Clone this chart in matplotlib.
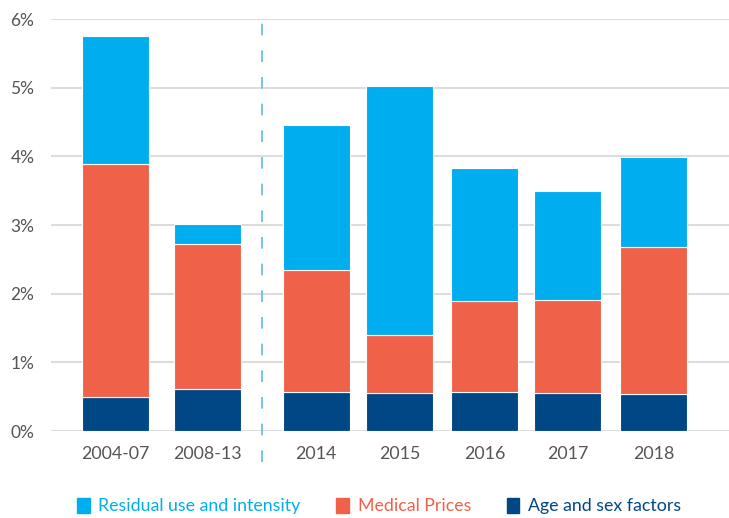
import matplotlib
matplotlib.use("Agg")
import matplotlib.pyplot as plt
from matplotlib.patches import Patch
import numpy as np

categories = ["2004-07", "2008-13", "2014", "2015", "2016", "2017", "2018"]
age_sex = [0.50, 0.61, 0.57, 0.55, 0.57, 0.55, 0.54]
medical_prices = [3.39, 2.11, 1.77, 0.85, 1.32, 1.36, 2.14]
residual = [1.86, 0.29, 2.12, 3.62, 1.94, 1.59, 1.31]
yticks = [0, 1, 2, 3, 4, 5, 6]
ytick_labels = ["0%", "1%", "2%", "3%", "4%", "5%", "6%"]

c_res = "#00aeef"
c_med = "#f0614a"
c_age = "#004785"

plt.rcParams['font.family'] = ['Lato', 'DejaVu Sans']

fig = plt.figure(figsize=(7.29, 5.18), dpi=100)
ax = fig.add_axes([51/729, 1 - 431/518, 1 - 51/729, (431 - 19)/518])

# layout: gap after the period averages
x = np.array([0, 1.08, 2.36, 3.34, 4.34, 5.32, 6.33])
w = 0.79

age = np.array(age_sex)
med = np.array(medical_prices)
res = np.array(residual)

ax.bar(x, age, w, color=c_age, edgecolor="white", linewidth=0.8, zorder=3)
ax.bar(x, med, w, bottom=age, color=c_med, edgecolor="white", linewidth=0.8, zorder=3)
ax.bar(x, res, w, bottom=age + med, color=c_res, edgecolor="white", linewidth=0.8, zorder=3)

ax.set_xlim(-0.76, 7.22)
ax.set_ylim(0, 6)
ax.set_yticks(yticks)
ax.set_yticklabels(ytick_labels, fontsize=12.5, color="#555555")
ax.set_xticks(x)
ax.set_xticklabels(categories, fontsize=12.8, color="#555555")
ax.tick_params(axis="both", length=0)
ax.tick_params(axis="y", pad=12)
ax.tick_params(axis="x", pad=11)
for s in ax.spines.values():
    s.set_visible(False)
ax.grid(axis="y", color="#dddddd", linewidth=1.5, zorder=0)
ax.set_axisbelow(True)

# dashed separator
ax.plot([1.72, 1.72], [-0.45, 6.0], color="#5bbde4", linewidth=1.2,
        linestyle=(0, (7, 9)), clip_on=False, zorder=1)

handles = [Patch(color=c_res), Patch(color=c_med), Patch(color=c_age)]
labels = ["Residual use and intensity", "Medical Prices", "Age and sex factors"]
leg = fig.legend(handles, labels, loc="center", bbox_to_anchor=(0.52, 1 - 506/518),
                 ncol=3, frameon=False, fontsize=12.8, handlelength=0.7,
                 handleheight=0.9, handletextpad=0.5, columnspacing=2.0)
for t, c in zip(leg.get_texts(), [c_res, c_med, c_age]):
    t.set_color(c)

fig.savefig("out.png", dpi=100)
